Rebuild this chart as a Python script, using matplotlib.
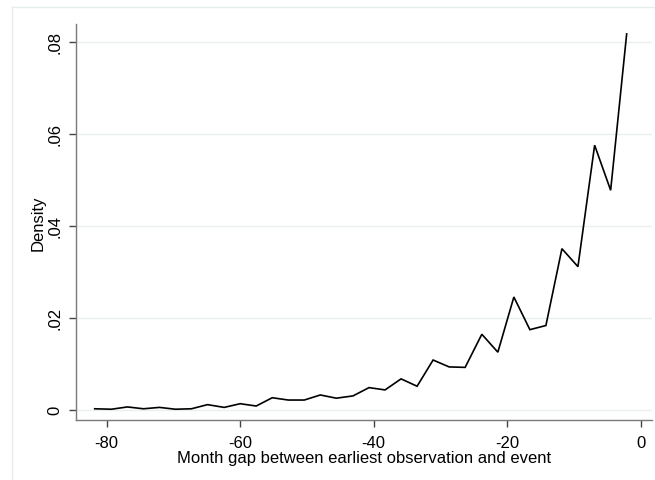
import matplotlib
matplotlib.use("Agg")
import matplotlib.pyplot as plt
from matplotlib.lines import Line2D

month_gap = [-81.8, -79.3, -76.9, -74.5, -72.1, -69.7, -67.3, -64.9, -62.4, -60.0,
             -57.6, -55.2, -52.8, -50.4, -48.0, -45.6, -43.1, -40.7, -38.3, -35.9,
             -33.5, -31.1, -28.7, -26.3, -23.8, -21.4, -19.0, -16.6, -14.2, -11.8,
             -9.4, -6.9, -4.5, -2.1]
density = [0.0002, 0.0001, 0.0006, 0.0002, 0.0005, 0.0001, 0.0002, 0.0011, 0.0005, 0.0013,
           0.0008, 0.0026, 0.0021, 0.0021, 0.0032, 0.0025, 0.0030, 0.0048, 0.0043, 0.0067,
           0.0051, 0.0108, 0.0093, 0.0092, 0.0164, 0.0125, 0.0245, 0.0174, 0.0183, 0.0350,
           0.0311, 0.0575, 0.0477, 0.0817]

x_ticks = [-80, -60, -40, -20, 0]
x_ticklabels = ["-80", "-60", "-40", "-20", "0"]
y_ticks = [0, 0.02, 0.04, 0.06, 0.08]
y_ticklabels = ["0", ".02", ".04", ".06", ".08"]

plt.rcParams["font.family"] = ["Liberation Sans", "DejaVu Sans"]

W, H = 655, 481
fig = plt.figure(figsize=(W / 100, H / 100), dpi=100)
fig.patch.set_facecolor("white")

# Faint outer graph-region frame (Stata style)
frame_col = "#E6EDEF"
fig.add_artist(Line2D([12 / W, 12 / W], [0, 1 - 8 / H], color=frame_col, lw=1.0))
fig.add_artist(Line2D([12 / W, 1], [1 - 8 / H, 1 - 8 / H], color=frame_col, lw=1.0))

ax = fig.add_axes([76 / W, 1 - 421 / H, (651.7 - 76) / W, (421 - 25) / H])

ax.plot(month_gap, density, color="black", lw=1.2, solid_joinstyle="miter")

ax.set_xlim(-84.6, 1.65)
ax.set_ylim(-0.00224, 0.08385)

ax.set_xticks(x_ticks)
ax.set_xticklabels(x_ticklabels)
ax.set_yticks(y_ticks)
ax.set_yticklabels(y_ticklabels, rotation=90, va="center")

ax.grid(axis="y", color="#EAF0F1", lw=1.0)
ax.set_axisbelow(True)

for side in ["top", "right"]:
    ax.spines[side].set_visible(False)
for side in ["left", "bottom"]:
    ax.spines[side].set_color("#7A7A7A")
    ax.spines[side].set_linewidth(1.0)

ax.tick_params(axis="both", direction="out", length=5, width=1.0, color="#444444",
               labelsize=12, labelcolor="black")
ax.tick_params(axis="x", pad=6)
ax.tick_params(axis="y", pad=5)

ax.set_xlabel("Month gap between earliest observation and event", fontsize=12, labelpad=0)
ax.set_ylabel("Density", fontsize=12, labelpad=1)

fig.savefig("out.png", dpi=100, facecolor="white")
